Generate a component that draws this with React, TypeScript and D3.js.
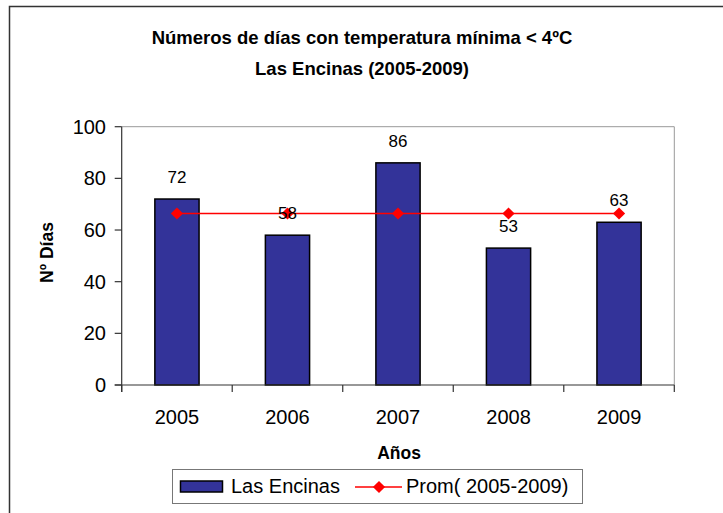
import React, { useRef, useEffect } from 'react';
import * as d3 from 'd3';

const years = ['2005', '2006', '2007', '2008', '2009'];
const diasEncinas = [72, 58, 86, 53, 63];
const promedio = [66.4, 66.4, 66.4, 66.4, 66.4];
const yTicks = [0, 20, 40, 60, 80, 100];

const W = 723;
const H = 513;
const FONT = 'Liberation Sans, Arial, sans-serif';
const BAR_FILL = '#333399';
const LINE_RED = '#ff0000';

const App: React.FC = () => {
  const svgRef = useRef<SVGSVGElement>(null);

  useEffect(() => {
    if (!svgRef.current) return;
    const svg = d3.select(svgRef.current);
    svg.selectAll('*').remove();

    const plot = { left: 121.7, right: 674.3, top: 126.7, bottom: 385 };

    // Outer chart frame (only top and left edges visible)
    svg
      .append('rect')
      .attr('x', 9.5)
      .attr('y', 6.5)
      .attr('width', 740)
      .attr('height', 540)
      .attr('fill', 'none')
      .attr('stroke', '#333')
      .attr('stroke-width', 1.5);

    // Title
    const title = svg
      .append('g')
      .attr('font-family', FONT)
      .attr('font-weight', 'bold')
      .attr('font-size', 18.5)
      .attr('text-anchor', 'middle')
      .attr('fill', '#000');
    title.append('text').attr('x', 362).attr('y', 44).text('Números de días con temperatura mínima < 4ºC');
    title.append('text').attr('x', 362).attr('y', 75).text('Las Encinas (2005-2009)');

    // Scales
    const x = d3
      .scaleBand<string>()
      .domain(years)
      .range([plot.left, plot.right])
      .paddingInner(0.6)
      .paddingOuter(0.3);
    const step = x.step();
    const cx = (d: string) => (x(d) as number) + x.bandwidth() / 2;

    const y = d3.scaleLinear().domain([0, 100]).range([plot.bottom, plot.top]);

    // Plot area frame (top and right light gray)
    svg
      .append('path')
      .attr('d', `M${plot.left},${plot.top}H${plot.right}V${plot.bottom}`)
      .attr('fill', 'none')
      .attr('stroke', '#999')
      .attr('stroke-width', 1);

    // Bars
    svg
      .append('g')
      .selectAll('rect')
      .data(diasEncinas)
      .join('rect')
      .attr('x', (_, i) => x(years[i]) as number)
      .attr('y', (d) => y(d))
      .attr('width', x.bandwidth())
      .attr('height', (d) => y(0) - y(d))
      .attr('fill', BAR_FILL)
      .attr('stroke', '#000')
      .attr('stroke-width', 1.5);

    // Y axis
    const yAxis = svg.append('g').attr('stroke', '#333').attr('stroke-width', 1.2);
    yAxis
      .append('line')
      .attr('x1', plot.left)
      .attr('x2', plot.left)
      .attr('y1', plot.top)
      .attr('y2', plot.bottom + 7);
    yAxis
      .selectAll('line.tick')
      .data(yTicks)
      .join('line')
      .attr('class', 'tick')
      .attr('x1', plot.left - 7)
      .attr('x2', plot.left)
      .attr('y1', (d) => y(d))
      .attr('y2', (d) => y(d));

    svg
      .append('g')
      .attr('font-family', FONT)
      .attr('font-size', 20)
      .attr('text-anchor', 'end')
      .selectAll('text')
      .data(yTicks)
      .join('text')
      .attr('x', 106)
      .attr('y', (d) => y(d) + 7)
      .text((d) => d);

    // X axis
    const xAxis = svg.append('g').attr('stroke', '#333').attr('stroke-width', 1.2);
    xAxis
      .append('line')
      .attr('x1', plot.left - 7)
      .attr('x2', plot.right)
      .attr('y1', plot.bottom)
      .attr('y2', plot.bottom);
    const boundaries = years.map((d) => cx(d) - step / 2).concat([cx(years[years.length - 1]) + step / 2]);
    xAxis
      .selectAll('line.tick')
      .data(boundaries)
      .join('line')
      .attr('class', 'tick')
      .attr('x1', (d) => d)
      .attr('x2', (d) => d)
      .attr('y1', plot.bottom)
      .attr('y2', plot.bottom + 7);

    svg
      .append('g')
      .attr('font-family', FONT)
      .attr('font-size', 20)
      .attr('text-anchor', 'middle')
      .selectAll('text')
      .data(years)
      .join('text')
      .attr('x', (d) => cx(d))
      .attr('y', 424)
      .text((d) => d);

    // Average line with diamond markers
    const line = d3
      .line<number>()
      .x((_, i) => cx(years[i]))
      .y((d) => y(d));
    svg
      .append('path')
      .datum(promedio)
      .attr('d', line)
      .attr('fill', 'none')
      .attr('stroke', LINE_RED)
      .attr('stroke-width', 1.5);

    const diamond = d3.symbol().type(d3.symbolDiamond2).size(95);
    svg
      .append('g')
      .selectAll('path')
      .data(promedio)
      .join('path')
      .attr('transform', (d, i) => `translate(${cx(years[i])},${y(d)})`)
      .attr('d', diamond)
      .attr('fill', LINE_RED);

    // Data labels
    svg
      .append('g')
      .attr('font-family', FONT)
      .attr('font-size', 17)
      .attr('text-anchor', 'middle')
      .selectAll('text')
      .data(diasEncinas)
      .join('text')
      .attr('x', (_, i) => cx(years[i]))
      .attr('y', (d) => y(d) - 16)
      .text((d) => d);

    // Axis titles
    svg
      .append('text')
      .attr('x', 399)
      .attr('y', 459)
      .attr('text-anchor', 'middle')
      .attr('font-family', FONT)
      .attr('font-weight', 'bold')
      .attr('font-size', 17.5)
      .text('Años');

    svg
      .append('text')
      .attr('transform', 'translate(52.5,252.5) rotate(-90)')
      .attr('text-anchor', 'middle')
      .attr('font-family', FONT)
      .attr('font-weight', 'bold')
      .attr('font-size', 17.5)
      .text('Nº Días');

    // Legend
    const legend = svg.append('g');
    legend
      .append('rect')
      .attr('x', 172.5)
      .attr('y', 469.5)
      .attr('width', 410)
      .attr('height', 34)
      .attr('fill', '#fff')
      .attr('stroke', '#777')
      .attr('stroke-width', 1);
    legend
      .append('rect')
      .attr('x', 180.5)
      .attr('y', 481)
      .attr('width', 42)
      .attr('height', 11)
      .attr('fill', BAR_FILL)
      .attr('stroke', '#000')
      .attr('stroke-width', 1.5);
    legend
      .append('text')
      .attr('x', 231)
      .attr('y', 493)
      .attr('font-family', FONT)
      .attr('font-size', 20)
      .text('Las Encinas');
    legend
      .append('line')
      .attr('x1', 355)
      .attr('x2', 402)
      .attr('y1', 487)
      .attr('y2', 487)
      .attr('stroke', LINE_RED)
      .attr('stroke-width', 1.5);
    legend
      .append('path')
      .attr('transform', 'translate(379,487)')
      .attr('d', diamond)
      .attr('fill', LINE_RED);
    legend
      .append('text')
      .attr('x', 406)
      .attr('y', 493)
      .attr('font-family', FONT)
      .attr('font-size', 20)
      .text('Prom( 2005-2009)');
  }, []);

  return (
    <svg
      ref={svgRef}
      width={W}
      height={H}
      style={{ position: 'absolute', left: 0, top: 0, background: '#fff', display: 'block' }}
    />
  );
};

export default App;
